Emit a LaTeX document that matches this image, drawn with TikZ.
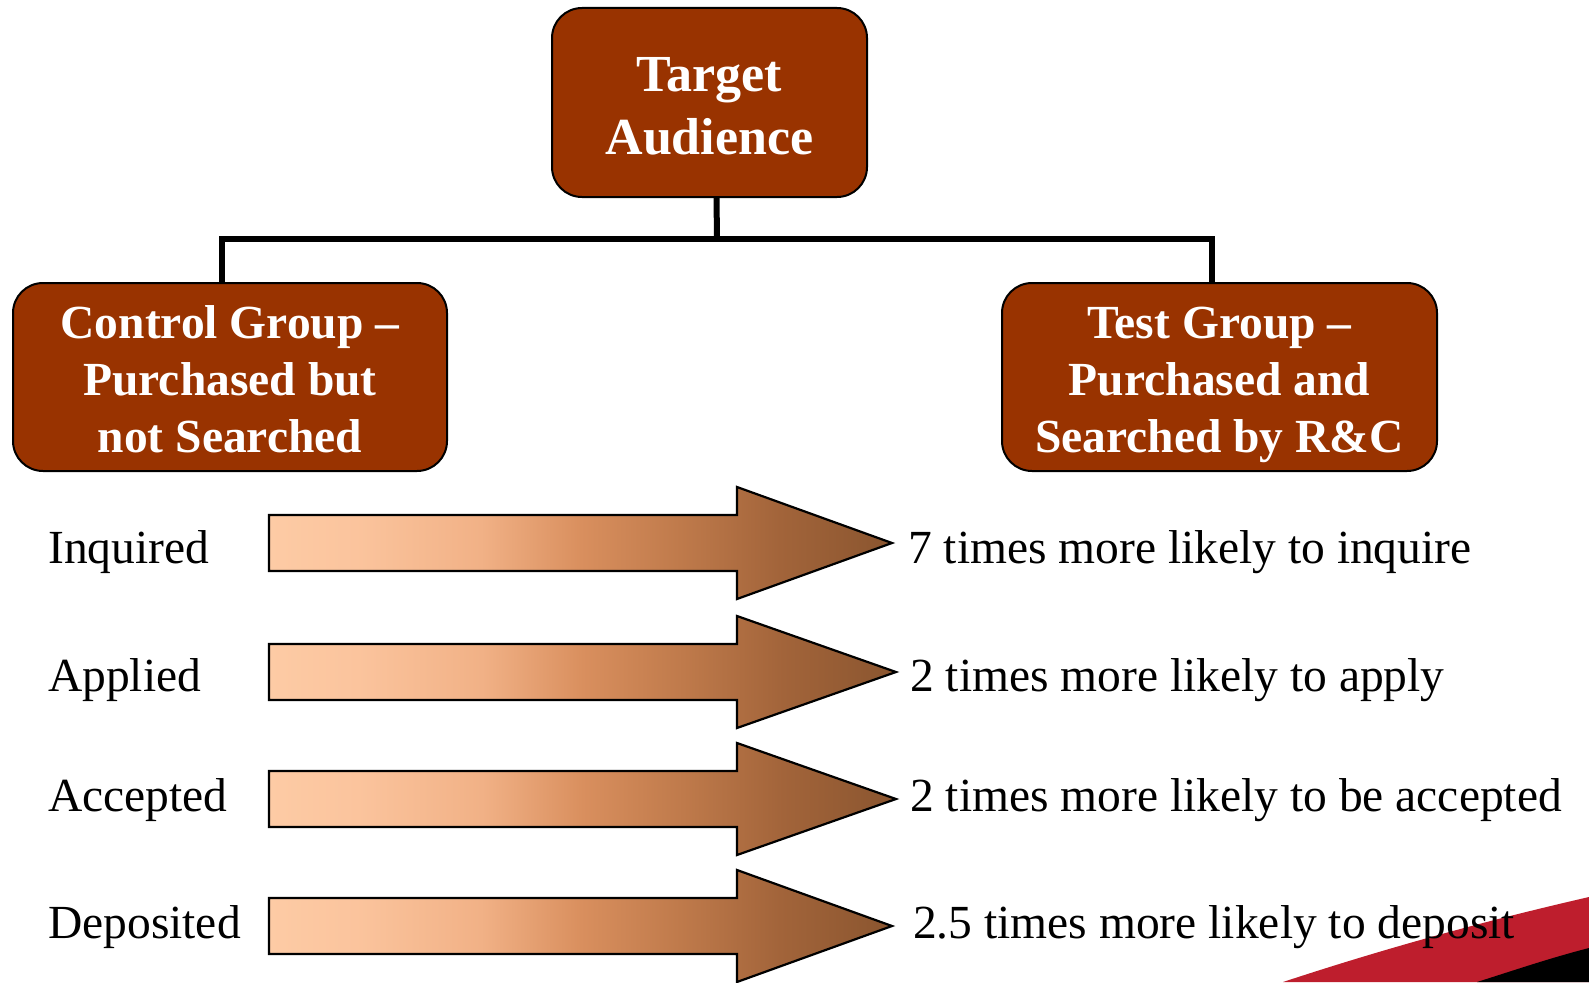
\documentclass[tikz,border=0pt]{standalone}
\usepackage{fontspec}
\setmainfont{Liberation Serif}
\usetikzlibrary{calc}

\definecolor{boxbrown}{HTML}{993300}
\definecolor{swred}{HTML}{BE1E2D}
\definecolor{sa}{HTML}{FDCBA5}
\definecolor{sb}{HTML}{FBC49D}
\definecolor{sc}{HTML}{F1B186}
\definecolor{sd}{HTML}{D98F5E}
\definecolor{se}{HTML}{BF7A4B}
\definecolor{sf}{HTML}{A2643A}
\definecolor{sg}{HTML}{8A552F}

% peach-to-brown fill of the block arrows (25bp..75bp spans the arrow)
\pgfdeclarehorizontalshading{peachbrown}{100bp}{%
  color(0bp)=(sa); color(25bp)=(sa); color(32bp)=(sb); color(42bp)=(sc);
  color(50bp)=(sd); color(58bp)=(se); color(66bp)=(sf); color(75bp)=(sg);
  color(100bp)=(sg)}

\tikzset{
  groupbox/.style={draw=black, line width=2pt, fill=boxbrown, rounded corners=30pt,
    text=white, align=center, inner sep=0pt,
    font=\bfseries\fontsize{47.5}{57}\selectfont},
  topbox/.style={groupbox, font=\bfseries\fontsize{52}{63}\selectfont},
  busline/.style={line width=6pt, line join=miter},
  rowlabel/.style={anchor=base west, inner sep=0pt, font=\fontsize{47.5}{57}\selectfont},
  resultlabel/.style={anchor=base west, inner sep=0pt, font=\fontsize{47.5}{57}\selectfont},
  blockarrow/.style={shading=peachbrown, shade, draw=black, line width=2.2pt, line join=miter}
}

% block arrow: #1 = centre line y, #2 = tip x
\newcommand\blockarrowat[2]{%
  \path[blockarrow] (269,#1-28) -- (737,#1-28) -- (737,#1-56) -- (#2,#1)
    -- (737,#1+56) -- (737,#1+28) -- (269,#1+28) -- cycle;}
% fixed first-line height inside the boxes
\newcommand\firstline[1]{\rule{0pt}{#1}}

\begin{document}
\begin{tikzpicture}[x=1pt, y=-1pt]
  \useasboundingbox[fill=white] (0,0) rectangle (1589,982);

  % corner swoosh
  \fill[swred] (1283,982) .. controls (1380,950) and (1480,922) .. (1589,897)
    -- (1589,982) -- cycle;
  \fill[black] (1477,982) .. controls (1515,970) and (1550,958) .. (1589,948)
    -- (1589,982) -- cycle;

  % hierarchy boxes
  \node[topbox, minimum width=315pt, minimum height=189pt] (tbox) at (709.5,102.5)
    {\firstline{41pt}Target\\Audience};
  \node[groupbox, minimum width=434pt, minimum height=188pt] (lbox) at (230,377)
    {\firstline{37pt}Control Group --\\Purchased but\\not Searched};
  \node[groupbox, minimum width=435pt, minimum height=188pt] (rbox) at (1219.5,377)
    {\firstline{37pt}Test Group --\\Purchased and\\\smash{Searched by R\&C}};

  % tree connectors
  \coordinate (tt) at ([xshift=7pt]tbox.south);
  \coordinate (lt) at ([xshift=-8pt]lbox.north);
  \coordinate (rt) at ([xshift=-8pt]rbox.north);
  \coordinate (bus) at (717,239);
  \draw[busline] (tt) -- (bus);
  \draw[busline] (lt) -- (lt |- bus) -- (rt |- bus) -- (rt);

  % outcome rows
  \blockarrowat{543}{892}
  \blockarrowat{672}{896}
  \blockarrowat{799}{896}
  \blockarrowat{926}{892}

  \node[rowlabel] (inq) at (48,563) {Inquired};
  \node[rowlabel] (app) at (48,691) {Applied};
  \node[rowlabel] (acc) at (48,811) {Accepted};
  \node[rowlabel] (dep) at (48,938) {Deposited};

  \node[resultlabel] (rinq) at (908,563) {7 times more likely to inquire};
  \node[resultlabel] (rapp) at (910,691) {2 times more likely to apply};
  \node[resultlabel] (racc) at (910,811) {2 times more likely to be accepted};
  \node[resultlabel] (rdep) at (913,938) {2.5 times more likely to deposit};
\end{tikzpicture}
\end{document}
